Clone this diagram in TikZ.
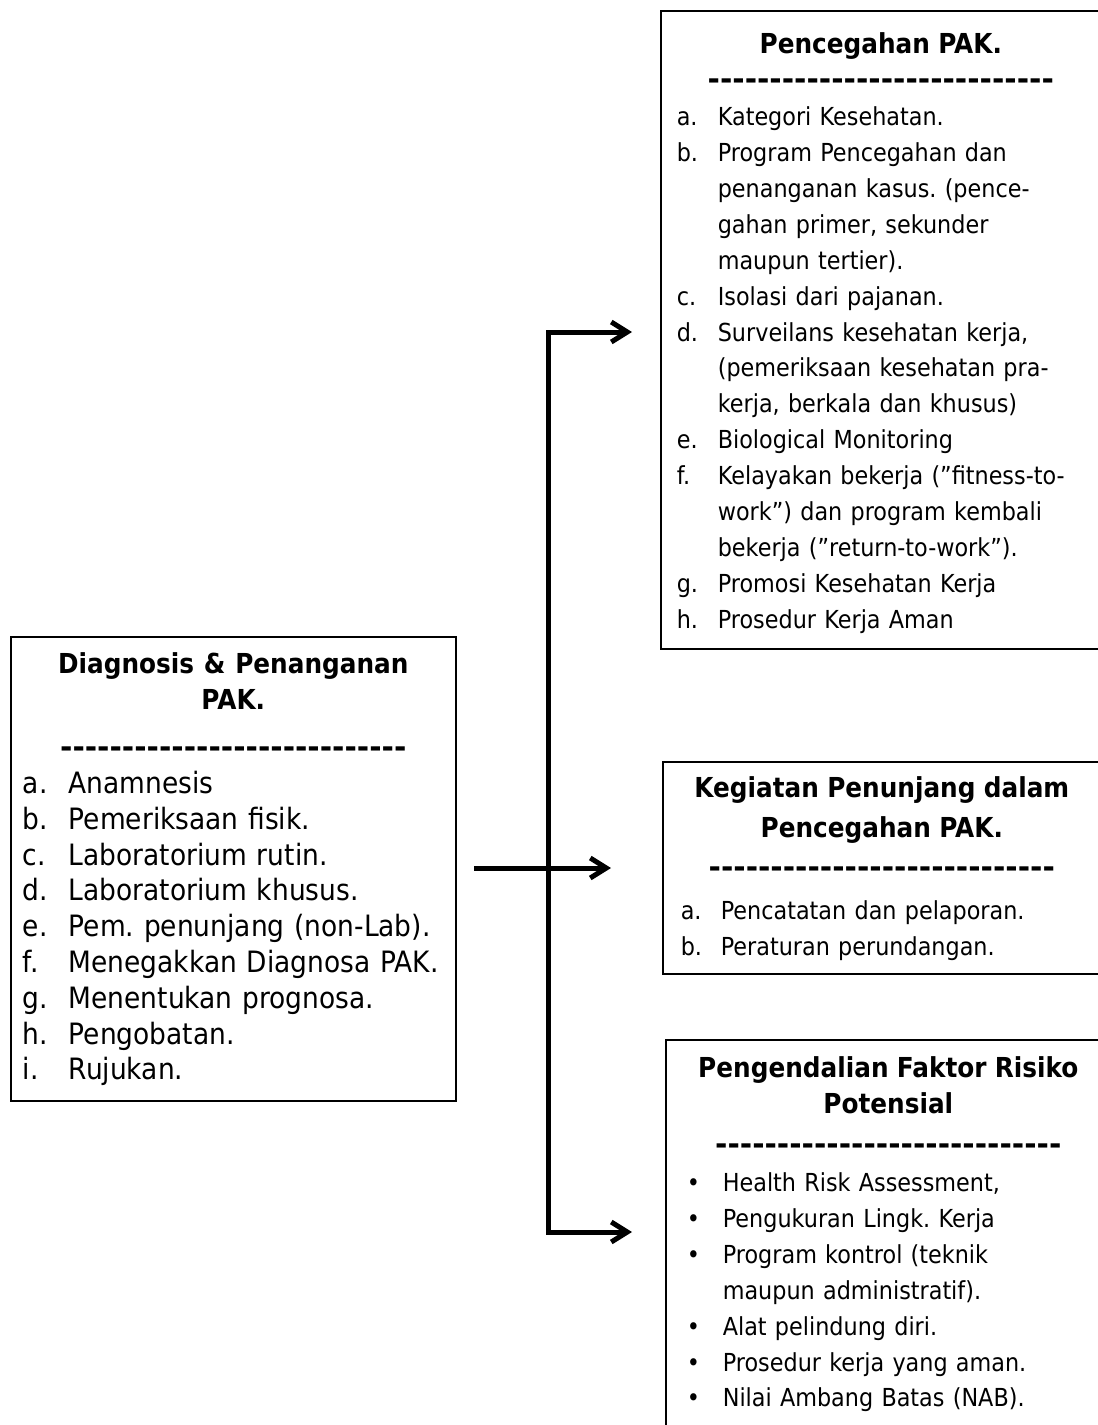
\documentclass[tikz,border=0pt]{standalone}
\usepackage{fontspec}
\setmainfont{DejaVu Sans}[FakeStretch=0.9]
\newfontfamily\dashfont{DejaVu Sans}
\usetikzlibrary{arrows.meta}
\frenchspacing
\newlength{\lblw}
\newcommand{\lst}[2]{\par\noindent\hangindent=\lblw\hangafter=1\makebox[\lblw][l]{#1}#2}
\newcommand{\boxtitle}[1]{{\centering\fontsize{13.75}{17.95}\selectfont\bfseries #1\par}}
\newcommand{\dashrow}{{\centering\dashfont\bfseries\fontsize{14.9}{17.95}\selectfont\foreach \d in {1,...,28}{-{}}\par}}
\begin{document}
\begin{tikzpicture}[x=0.5pt,y=-0.5pt,
  box/.style={draw,line width=0.8pt,anchor=north west,inner ysep=0pt,
    font=\fontsize{12.4}{17.95}\selectfont},
  >={Straight Barb[length=8pt,width=10pt]}]
\useasboundingbox (0,0) rectangle (1098,1425);
\node[box,text width=210.5pt,inner xsep=6pt,text height=18.5pt,text depth=213.5pt,
  font=\fontsize{14.7}{17.9}\selectfont] (diag) at (10,636) {%
\raggedright\setlength{\lblw}{23pt}%
\boxtitle{Diagnosis \& Penanganan\\PAK.}%
\vspace{6pt}\dashrow
\lst{a.}{Anamnesis}
\lst{b.}{Pemeriksaan fisik.}
\lst{c.}{Laboratorium rutin.}
\lst{d.}{Laboratorium khusus.}
\lst{e.}{Pem. penunjang (non-Lab).}
\lst{f.}{Menegakkan Diagnosa PAK.}
\lst{g.}{Menentukan prognosa.}
\lst{h.}{Pengobatan.}
\lst{i.}{Rujukan.}
};
\node[box,text width=204pt,inner xsep=8pt,text height=21.5pt,text depth=297.5pt] (cegah) at (660,10) {%
\raggedright\setlength{\lblw}{20.5pt}%
\boxtitle{Pencegahan PAK.}%
\dashrow
\lst{a.}{Kategori Kesehatan.}
\lst{b.}{Program Pencegahan dan\newline penanganan kasus. (pence-\newline gahan primer, sekunder\newline maupun tertier).}
\lst{c.}{Isolasi dari pajanan.}
\lst{d.}{Surveilans kesehatan kerja,\newline (pemeriksaan kesehatan pra-\newline kerja, berkala dan khusus)}
\lst{e.}{Biological Monitoring}
\lst{f.}{Kelayakan bekerja (”fitness-to-\newline work”) dan program kembali\newline bekerja (”return-to-work”).}
\lst{g.}{Promosi Kesehatan Kerja}
\lst{h.}{Prosedur Kerja Aman}
};
\node[box,text width=201pt,inner xsep=9pt,text height=18pt,text depth=88pt] (tunjang) at (662,761) {%
\raggedright\setlength{\lblw}{20pt}%
\boxtitle{Kegiatan Penunjang dalam\\[2pt]Pencegahan PAK.}%
\vspace{2pt}\dashrow
\vspace{3pt}%
\lst{a.}{Pencatatan dan pelaporan.}
\lst{b.}{Peraturan perundangan.}
};
\node[box,text width=205.5pt,inner xsep=8.5pt,text height=19pt,text depth=181.5pt] (kendali) at (665,1039) {%
\raggedright\setlength{\lblw}{20pt}%
\boxtitle{Pengendalian Faktor Risiko\\Potensial}%
\vspace{2.5pt}\dashrow
\vspace{0.5pt}%
\lst{\hspace{2pt}•}{Health Risk Assessment,}
\lst{\hspace{2pt}•}{Pengukuran Lingk. Kerja}
\lst{\hspace{2pt}•}{Program kontrol (teknik\newline maupun administratif).}
\lst{\hspace{2pt}•}{Alat pelindung diri.}
\lst{\hspace{2pt}•}{Prosedur kerja yang aman.}
\lst{\hspace{2pt}•}{Nilai Ambang Batas (NAB).}
};
\coordinate (jtop) at (548,332);
\coordinate (jbot) at (548,1232);
\coordinate (tipA) at (632,332);
\coordinate (tipC) at (632,1232);
\coordinate (midS) at (474,868);
\coordinate (tipB) at (611,868);
\draw[line width=2.5pt,<->] (tipA) -- (jtop) -- (jbot) -- (tipC);
\draw[line width=2.5pt,->] (midS) -- (tipB);
\end{tikzpicture}
\end{document}
